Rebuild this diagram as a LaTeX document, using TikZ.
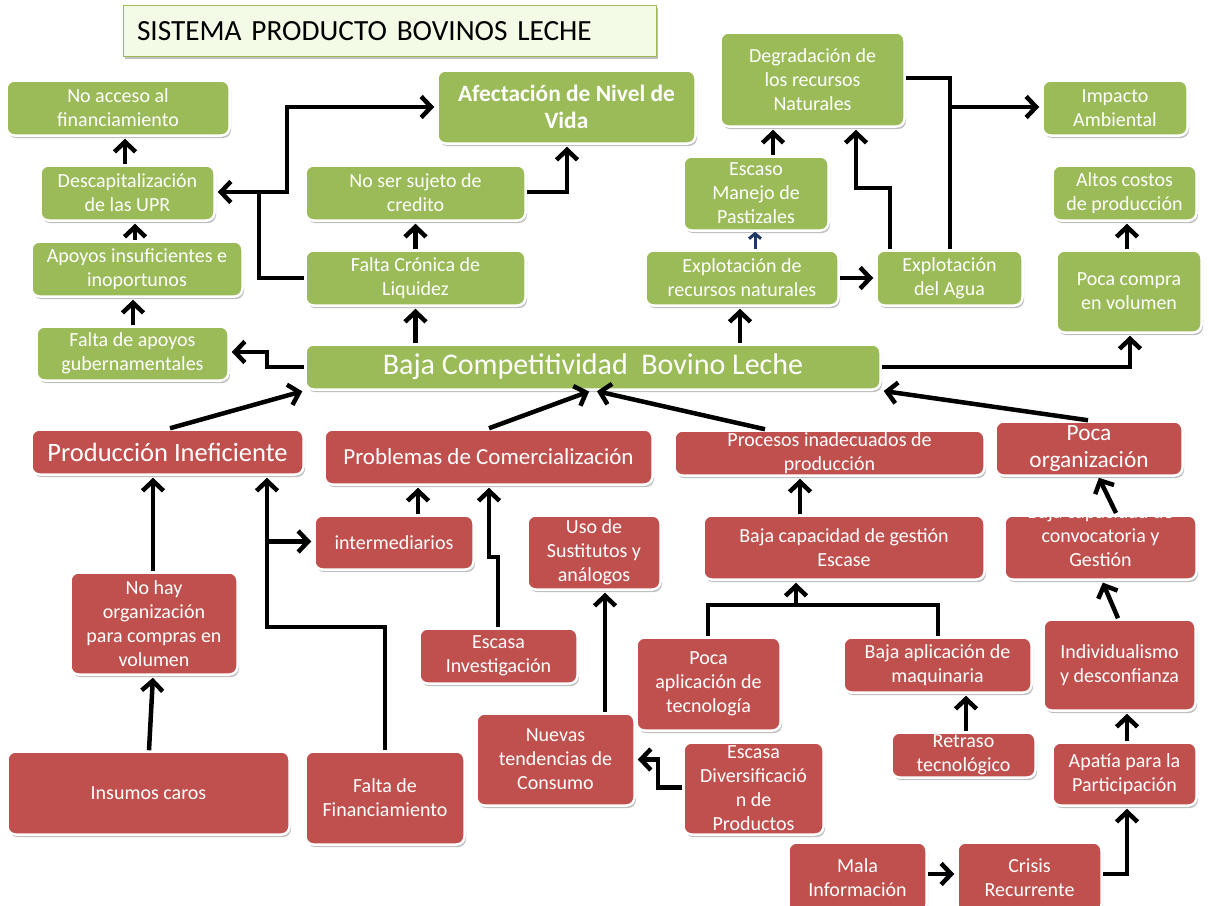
\documentclass[tikz,border=0pt]{standalone}
\usepackage{fontspec}
\setmainfont{Carlito}
\usetikzlibrary{arrows.meta,shadows}
\definecolor{gfill}{HTML}{9BBB59}
\definecolor{rfill}{HTML}{C0504D}
\definecolor{tfill}{HTML}{F3FAE6}
\definecolor{navyc}{HTML}{1F3864}
\tikzset{
  box/.style={rounded corners=8pt, draw=white, line width=2.5pt, text=white, align=center,
    inner sep=0pt, font=\fontsize{20}{24}\selectfont,
    drop shadow={shadow xshift=1.5pt, shadow yshift=-2.5pt, opacity=0.25, fill=black}},
  gbox/.style={box, fill=gfill},
  rbox/.style={box, fill=rfill},
  boxtext/.style={text=white, align=center, inner sep=0pt, font=\fontsize{20}{24}\selectfont},
  titlebox/.style={fill=tfill, draw=gfill, line width=1.2pt, text=black, align=left,
    inner sep=0pt, text width=506pt, font=\fontsize{29.3}{32}\selectfont,
    drop shadow={shadow xshift=1.5pt, shadow yshift=-2.5pt, opacity=0.25, fill=black}},
  arr/.style={line width=4.5pt, -{Straight Barb[length=10pt,width=21pt]}, shorten >=2pt},
  ln/.style={line width=4.5pt},
  navyarr/.style={line width=3pt, draw=navyc, -{Straight Barb[length=5pt,width=12pt]}}
}
\begin{document}
\begin{tikzpicture}[x=1pt,y=-1pt]
\path[use as bounding box] (0,0) rectangle (1209,905);
\clip (0,0) rectangle (1209,905);
\fill[white] (0,0) rectangle (1209,905);

% title
\node[titlebox, minimum width=533pt, minimum height=51pt] (title) at (390,31) {SISTEMA PRODUCTO BOVINOS LECHE};

% green boxes
\node[gbox, minimum width=223pt, minimum height=55pt] (gA) at (118,108) {No acceso al\\financiamiento};
\node[gbox, minimum width=174pt, minimum height=55pt] (gB) at (127.5,193) {Descapitalización\\de las UPR};
\node[gbox, minimum width=211pt, minimum height=55pt] (gC) at (137,269) {Apoyos insuficientes e\\inoportunos};
\node[gbox, minimum width=192pt, minimum height=54pt] (gD) at (132.5,353.5) {Falta de apoyos\\gubernamentales};
\node[gbox, minimum width=258pt, minimum height=73pt, font=\bfseries\fontsize{23.4}{27}\selectfont] (gE) at (566.5,107) {Afectación de Nivel de\\Vida};
\node[gbox, minimum width=220pt, minimum height=55pt] (gF) at (415.5,193) {No ser sujeto de\\credito};
\node[gbox, minimum width=220pt, minimum height=55pt] (gG) at (415.5,278) {Falta Crónica de\\Liquidez};
\node[gbox, minimum width=575pt, minimum height=45pt, font=\fontsize{30}{34}\selectfont] (gH) at (593,367) {Baja Competitividad\ \ Bovino Leche};
\node[gbox, minimum width=184pt, minimum height=94pt] (gI) at (812.5,79.5) {Degradación de\\los recursos\\Naturales};
\node[gbox, minimum width=145pt, minimum height=55pt] (gJ) at (1115,108) {Impacto\\Ambiental};
\node[gbox, minimum width=145pt, minimum height=74pt] (gK) at (756,193.5) {Escaso\\Manejo de\\Pastizales};
\node[gbox, minimum width=193pt, minimum height=55pt] (gL) at (742,278) {Explotación de\\recursos naturales};
\node[gbox, minimum width=146pt, minimum height=55pt] (gM) at (949.5,278) {Explotación\\del Agua};
\node[gbox, minimum width=144pt, minimum height=55pt] (gN) at (1124.5,193) {Altos costos\\de producción};
\node[gbox, minimum width=145pt, minimum height=82pt] (gO) at (1129,291.5) {Poca compra\\en volumen};

% red boxes
\node[rbox, minimum width=272pt, minimum height=45pt, font=\fontsize{26.5}{30}\selectfont] (rA) at (167.5,452) {Producción Ineficiente};
\node[rbox, minimum width=328pt, minimum height=55pt, font=\fontsize{23}{27}\selectfont] (rB) at (488.5,457) {Problemas de Comercialización};
\node[rbox, minimum width=310pt, minimum height=45pt] (rC) at (829.5,453) {Procesos inadecuados de\\producción};
\node[rbox, minimum width=187pt, minimum height=54pt, font=\fontsize{23.3}{27}\selectfont] (rD) at (1089,448.5) {Poca\\organización};
\node[rbox, minimum width=159pt, minimum height=54pt] (rE) at (394,542.5) {intermediarios};
\node[rbox, minimum width=133pt, minimum height=74pt] (rF) at (594,552.5) {Uso de\\Sustitutos y\\análogos};
\node[rbox, minimum width=281pt, minimum height=64pt] (rG) at (844,547.5) {Baja capacidad de gestión\\Escase};
\node[rbox, minimum width=192pt, minimum height=64pt] (rH) at (1100.5,547.5) {};
\node[boxtext] (rHt) at (1100.5,536) {Baja capacidad de\\convocatoria y\\Gestión};
\node[rbox, minimum width=167pt, minimum height=102pt] (rI) at (154,623.5) {No hay\\organización\\para compras en\\volumen};
\node[rbox, minimum width=158pt, minimum height=55pt] (rJ) at (498.5,656) {Escasa\\Investigación};
\node[rbox, minimum width=282pt, minimum height=83pt] (rK) at (148.5,793) {Insumos caros};
\node[rbox, minimum width=159pt, minimum height=93pt] (rL) at (385,798) {Falta de\\Financiamiento};
\node[rbox, minimum width=158pt, minimum height=92pt] (rM) at (555.5,759.5) {Nuevas\\tendencias de\\Consumo};
\node[rbox, minimum width=144pt, minimum height=93pt] (rN) at (708.5,684) {Poca\\aplicación de\\tecnología};
\node[rbox, minimum width=188pt, minimum height=55pt] (rO) at (937.5,665) {Baja aplicación de\\maquinaria};
\node[rbox, minimum width=144pt, minimum height=45pt] (rP) at (963.5,755) {Retraso\\tecnológico};
\node[rbox, minimum width=140pt, minimum height=92pt] (rQ) at (753.5,788.5) {Escasa\\Diversificació\\n de\\Productos};
\node[rbox, minimum width=152pt, minimum height=91pt] (rR) at (1119.5,665) {Individualismo\\y desconfianza};
\node[rbox, minimum width=144pt, minimum height=63pt] (rS) at (1124.5,774) {Apatía para la\\Participación};
\node[rbox, minimum width=138pt, minimum height=70pt] (rT) at (857.5,877.5) {Mala\\Información};
\node[rbox, minimum width=144pt, minimum height=70pt] (rU) at (1029.5,877.5) {Crisis\\Recurrente};

% connectors - upper left
\draw[arr] (125,0 |- gB.north) -- (125,0 |- gA.south);
\draw[arr] (135,0 |- gC.north) -- (135,0 |- gB.south);
\draw[arr] (133,0 |- gD.north) -- (133,0 |- gC.south);
\draw[arr] (gH.west) -- (267,367) -- (267,352) -- (gD.east |- 0,352);
\draw[ln] (gG.west) -| (259,192);
\draw[arr] (289,192) -- (gB.east |- 0,192);
\draw[arr] (287,192) |- (gE.west);
\draw[arr] (gF.east |- 0,192) -| (567,0 |- gE.south);
\draw[arr] (gG.north) -- (gF.south);
\draw[arr] (gG.south |- gH.north) -- (gG.south);

% upper right
\draw[navyarr] (755,0 |- gL.north) -- (755,0 |- gK.south);
\draw[arr] (773,0 |- gK.north) -- (773,0 |- gI.south);
\draw[arr] (890,0 |- gM.north) -- (890,188) -| (856,0 |- gI.south);
\draw[ln] (gI.east |- 0,78) -| (950,0 |- gM.north);
\draw[arr] (950,107) -- (gJ.west |- 0,107);
\draw[arr] (gL.east) -- (gM.west);
\draw[arr] (740,0 |- gH.north) -- (740,0 |- gL.south);
\draw[arr] (1127,0 |- gO.north) -- (1127,0 |- gN.south);
\draw[arr] (gH.east) -| (1130,0 |- gO.south);

% into Baja Competitividad
\draw[arr] (170,0 |- rA.north) -- (gH.south west);
\draw[arr] (489,0 |- rB.north) -- ([xshift=-2pt]gH.south);
\draw[arr] (765,0 |- rC.north) -- ([xshift=2pt]gH.south);
\draw[arr] (1088,0 |- rD.north) -- (gH.south east);

% lower left
\draw[arr] (153,0 |- rI.north) -- (153,0 |- rA.south);
\draw[ln] (385,0 |- rL.north) -- (385,627) -- (265,627);
\draw[arr] (267,629) -- (267,0 |- rA.south);
\draw[arr] (267,541.5) -- (rE.west |- 0,541.5);
\draw[arr] (418,0 |- rE.north) -- (418,0 |- rB.south);
\draw[arr] (498,0 |- rJ.north) -- (498,557) -- (489,557) -- (489,0 |- rB.south);
\draw[arr] (605,0 |- rM.north) -- (605,0 |- rF.south);
\draw[arr] (rQ.west |- 0,787.5) -- (658,787.5) -- (658,759.5) -- (rM.east);
\draw[arr] (149,0 |- rK.north) -- (153,0 |- rI.south);

% lower right
\draw[ln] (708,0 |- rN.north) |- (938,605) -- (938,0 |- rO.north);
\draw[arr] (796,605) -- (796,0 |- rG.south);
\draw[arr] (800,0 |- rG.north) -- (800,0 |- rC.south);
\draw[arr] (1116,513) -- (1098,476);
\draw[arr] (1118,0 |- rR.north) -- (1102,0 |- rH.south);
\draw[arr] (966,0 |- rP.north) -- (966,0 |- rO.south);
\draw[arr] (1127,0 |- rS.north) -- (1127,0 |- rR.south);
\draw[arr] (rU.east |- 0,874) -| (1127,0 |- rS.south);
\draw[arr] (rT.east |- 0,874) -- (rU.west |- 0,874);
\end{tikzpicture}
\end{document}
